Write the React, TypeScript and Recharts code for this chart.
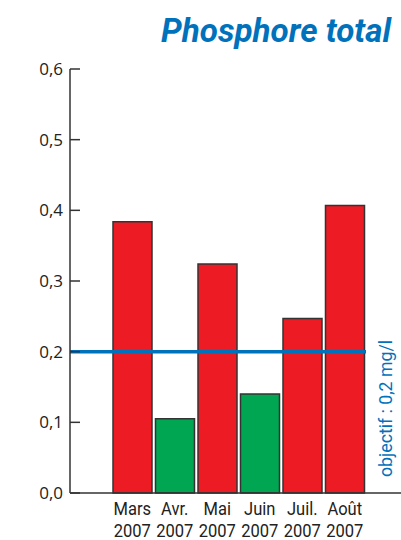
import React from 'react';
import { BarChart, Bar, XAxis, YAxis, Cell, ReferenceLine } from 'recharts';

const months = ['Mars', 'Avr.', 'Mai', 'Juin', 'Juil.', 'Août'];
const years = ['2007', '2007', '2007', '2007', '2007', '2007'];
const phosphore = [0.384, 0.105, 0.324, 0.14, 0.247, 0.407];
const yTicks = [0, 0.1, 0.2, 0.3, 0.4, 0.5, 0.6];
const objectif = 0.2;

const RED = '#ED1C24';
const GREEN = '#00A651';
const BLUE = '#0072BC';
const AXIS = '#333333';

const PAD_LEFT = 41;
const PAD_RIGHT = 35;

const data = months.map((m, i) => ({
  mois: m,
  annee: years[i],
  value: phosphore[i],
}));

// libellé sur deux lignes, police un peu resserrée
function MonthTick(props: any) {
  const { x, y, payload, index } = props;
  return (
    <g transform={`translate(${x}, ${y}) scale(0.87, 1)`}>
      <text
        x={0}
        y={0}
        textAnchor="middle"
        fill="#222"
        fontSize={19}
        fontFamily="Roboto, 'Liberation Sans Narrow', sans-serif"
      >
        <tspan x={0} dy={14}>{payload.value}</tspan>
        <tspan x={0} dy={22}>{years[index]}</tspan>
      </text>
    </g>
  );
}

// ligne d'objectif qui s'arrête à la dernière barre
function ObjectifLine(props: any) {
  const { x1, y1, x2, y2 } = props;
  return <line x1={x1} y1={y1} x2={x2 - PAD_RIGHT} y2={y2} stroke={BLUE} strokeWidth={3.5} />;
}

export default function App() {
  return (
    <div style={{ position: 'absolute', left: 0, top: 0, width: 401, height: 540, background: '#fff' }}>
      <BarChart
        width={401}
        height={540}
        data={data}
        margin={{ top: 69, right: 0, bottom: 0, left: 0 }}
      >
        <XAxis
          dataKey="mois"
          height={47}
          padding={{ left: PAD_LEFT, right: PAD_RIGHT }}
          tickLine={false}
          axisLine={{ stroke: AXIS, strokeWidth: 1.5 }}
          tick={<MonthTick />}
          interval={0}
        />
        <YAxis
          width={70}
          domain={[0, 0.6]}
          ticks={yTicks}
          tickSize={-10}
          tickMargin={17}
          tickLine={{ stroke: AXIS, strokeWidth: 1.5 }}
          axisLine={{ stroke: AXIS, strokeWidth: 1.5 }}
          tickFormatter={(v: number) => v.toFixed(1).replace('.', ',')}
          tick={{ fill: '#222', fontSize: 17, fontFamily: "'Open Sans', sans-serif" }}
        />
        <Bar dataKey="value" barSize={39} stroke={AXIS} strokeWidth={1.5} isAnimationActive={false}>
          {data.map((d, i) => (
            <Cell key={i} fill={d.value > objectif ? RED : GREEN} />
          ))}
        </Bar>
        <ReferenceLine y={objectif} shape={<ObjectifLine />} />
      </BarChart>
      <svg
        width={401}
        height={540}
        style={{ position: 'absolute', left: 0, top: 0, pointerEvents: 'none' }}
      >
        <text
          x={161}
          y={42}
          fill={BLUE}
          fontSize={34}
          fontWeight="bold"
          fontStyle="italic"
          fontFamily="Roboto, sans-serif"
          textLength={230}
          lengthAdjust="spacingAndGlyphs"
        >
          Phosphore total
        </text>
        <text
          transform="translate(392, 477) rotate(-90)"
          fill={BLUE}
          fontSize={19}
          fontFamily="Roboto, sans-serif"
          textLength={137}
          lengthAdjust="spacingAndGlyphs"
        >
          objectif : 0,2 mg/l
        </text>
      </svg>
    </div>
  );
}
